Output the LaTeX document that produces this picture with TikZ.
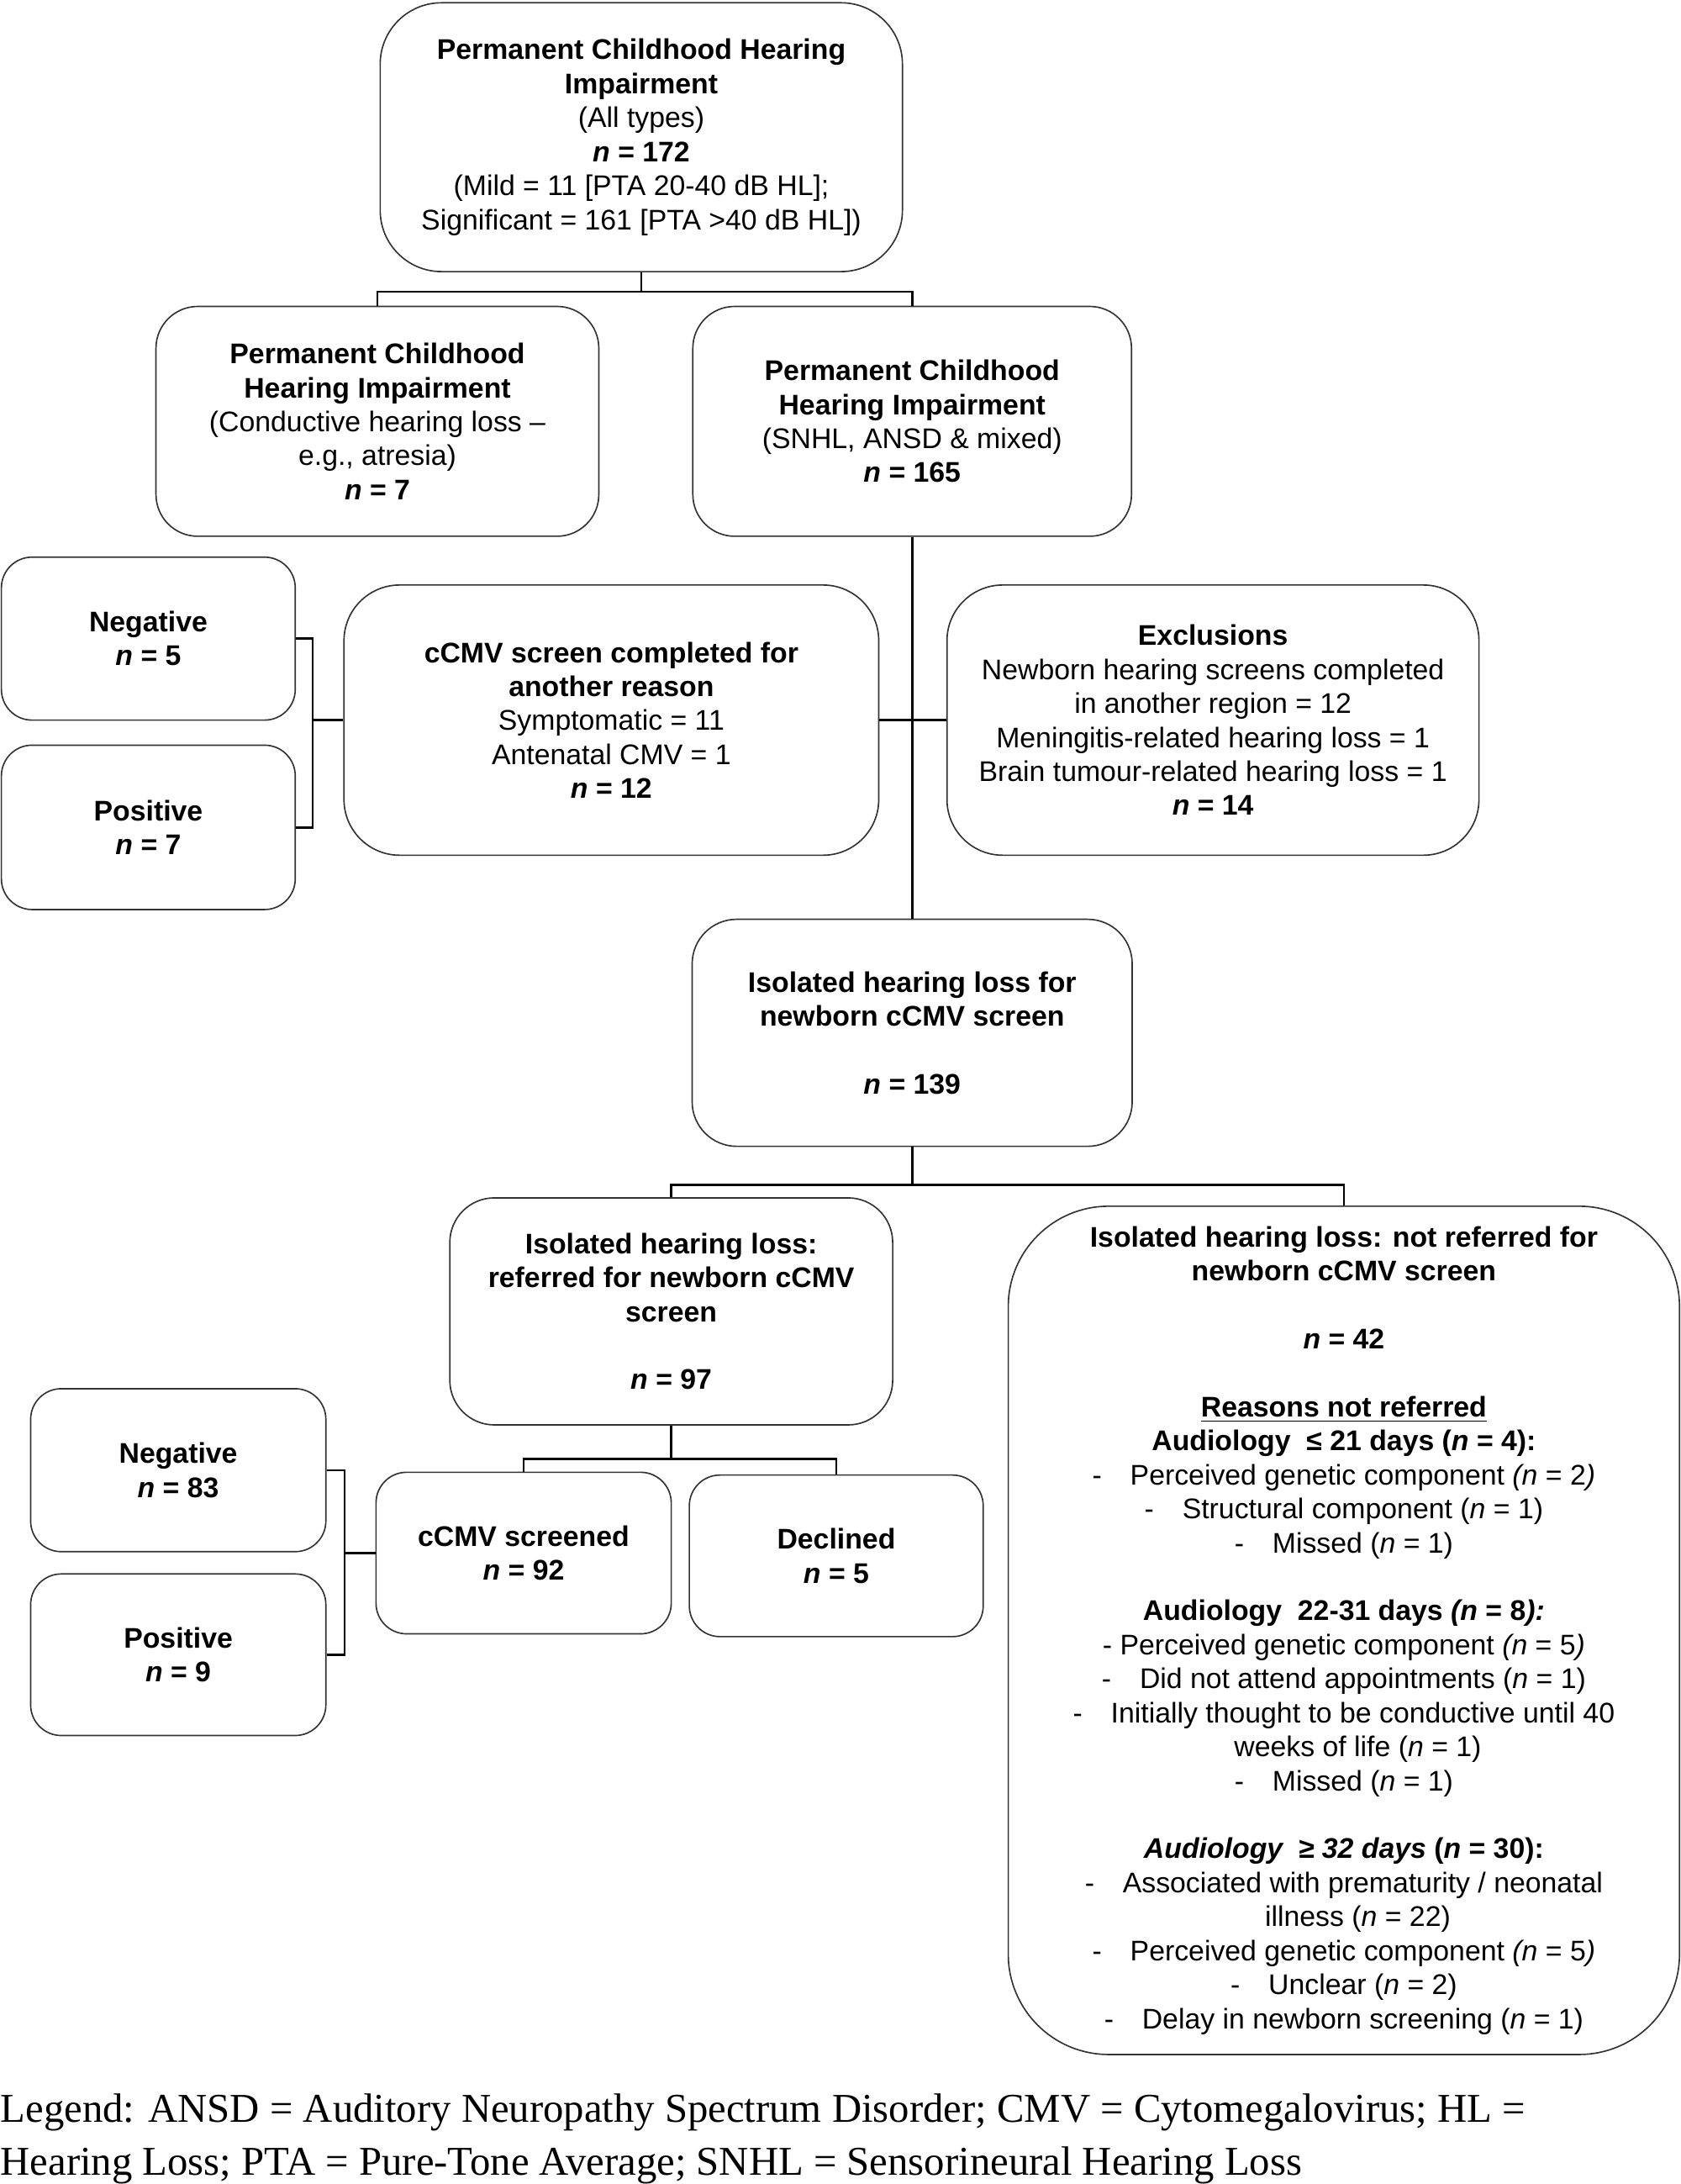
\documentclass[tikz,border=0pt]{standalone}
\usepackage{fontspec}
\setmainfont{Liberation Sans}
\newfontfamily\legendfont{Liberation Serif}
\usetikzlibrary{positioning}
\tikzset{
  box/.style = {draw=black!80, line width=0.5pt, rounded corners=#1, align=center, inner sep=0pt,
    font=\fontsize{10.2pt}{12.2pt}\selectfont},
  box/.default = 14pt,
  link/.style = {line width=0.8pt},
}
\newcommand{\nval}[1]{\textbf{\textit{n} = #1}}

\begin{document}
\begin{tikzpicture}[x=0.5pt, y=-0.5pt]
  \useasboundingbox (0,0) rectangle (1207,1568);
  \node[box=22pt, minimum width=187.5pt, minimum height=96.5pt] (all) at (460.5,98.5)
    {\textbf{Permanent Childhood Hearing}\\\textbf{Impairment}\\(All types)\\\nval{172}\\
     (Mild = 11 [PTA 20-40 dB HL];\\Significant = 161 [PTA >40 dB HL])};
  \node[box=15pt, minimum width=159pt, minimum height=82.5pt] (cond) at (271,302.5)
    {\textbf{Permanent Childhood}\\\textbf{Hearing Impairment}\\(Conductive hearing loss --\\e.g., atresia)\\\nval{7}};
  \node[box=15pt, minimum width=157.5pt, minimum height=82.5pt] (snhl) at (655,302.5)
    {\textbf{Permanent Childhood}\\\textbf{Hearing Impairment}\\(SNHL, ANSD \& mixed)\\\nval{165}};
  \node[box=11pt, minimum width=105.5pt, minimum height=58.5pt] (neg1) at (106.5,458.5)
    {\textbf{Negative}\\\nval{5}};
  \node[box=11pt, minimum width=105.5pt, minimum height=59pt] (pos1) at (106.5,594)
    {\textbf{Positive}\\\nval{7}};
  \node[box=20pt, minimum width=192pt, minimum height=97pt] (other) at (439,517)
    {\textbf{cCMV screen completed for}\\\textbf{another reason}\\Symptomatic = 11\\Antenatal CMV = 1\\\nval{12}};
  \node[box=20pt, minimum width=191pt, minimum height=97pt] (excl) at (871,517)
    {\textbf{Exclusions}\\Newborn hearing screens completed\\in another region = 12\\
     Meningitis-related hearing loss = 1\\Brain tumour-related hearing loss = 1\\\nval{14}};
  \node[box=16pt, minimum width=158pt, minimum height=81.5pt] (iso) at (655,741.5)
    {\textbf{Isolated hearing loss for}\\\textbf{newborn cCMV screen}\\[12.2pt]\nval{139}};
  \node[box=16pt, minimum width=159pt, minimum height=81.5pt] (ref) at (482,941.5)
    {\textbf{Isolated hearing loss:}\\\textbf{referred for newborn cCMV}\\\textbf{screen}\\[12.2pt]\nval{97}};
  \node[box=36pt, minimum width=241pt, minimum height=304.5pt] (notref) at (965,1170.5)
    {\textbf{Isolated hearing loss: not referred for}\\\textbf{newborn cCMV screen}\\[12.2pt]
     \nval{42}\\[12.2pt]
     \underline{\textbf{Reasons not referred}}\\
     \textbf{Audiology\ \ ≤ 21 days (\textit{n} = 4):}\\
     -\quad Perceived genetic component \textit{(n} = 2\textit{)}\\
     -\quad Structural component (\textit{n} = 1)\\
     -\quad Missed (\textit{n} = 1)\\[12.2pt]
     \textbf{Audiology\ \ 22-31 days \textit{(n} = 8\textit{):}}\\
     - Perceived genetic component \textit{(n} = 5\textit{)}\\
     -\quad Did not attend appointments (\textit{n} = 1)\\
     -\quad Initially thought to be conductive until 40\\
     \hspace*{10pt}weeks of life (\textit{n} = 1)\\
     -\quad Missed (\textit{n} = 1)\\[12.2pt]
     \textbf{\textit{Audiology\ \ ≥ 32 days} (\textit{n} = 30):}\\
     -\quad Associated with prematurity / neonatal\\
     \hspace*{10pt}illness (\textit{n} = 22)\\
     -\quad Perceived genetic component \textit{(n} = 5\textit{)}\\
     -\quad Unclear (\textit{n} = 2)\\
     -\quad Delay in newborn screening (\textit{n} = 1)};
  \node[box=11pt, minimum width=106pt, minimum height=58.5pt] (neg2) at (128,1055.5)
    {\textbf{Negative}\\\nval{83}};
  \node[box=11pt, minimum width=106pt, minimum height=58pt] (pos2) at (128,1188)
    {\textbf{Positive}\\\nval{9}};
  \node[box=11pt, minimum width=106pt, minimum height=58pt] (scr) at (376,1115)
    {\textbf{cCMV screened}\\\nval{92}};
  \node[box=11pt, minimum width=105.5pt, minimum height=58pt] (decl) at (600.5,1117)
    {\textbf{Declined}\\\nval{5}};
  \node[anchor=north west, align=left, inner sep=0pt,
    font=\legendfont\fontsize{14.7pt}{19pt}\selectfont] (legend) at (0,1503)
    {Legend: ANSD = Auditory Neuropathy Spectrum Disorder; CMV = Cytomegalovirus; HL =\\
     Hearing Loss; PTA = Pure-Tone Average; SNHL = Sensorineural Hearing Loss};
  % connectors
  \draw[link] (all.south) -- ++(0,14) coordinate (j1);
  \draw[link] (j1) -| (cond.north);
  \draw[link] (j1) -| (snhl.north);
  \draw[link] (snhl) -- (iso);
  \draw[link] (other) -- (excl);
  \draw[link] (neg1.east) -- ++(12,0) coordinate (b1) |- (pos1.east);
  \draw[link] (other.west) -- (other.west -| b1);
  \draw[link] (iso.south) -- ++(0,27) coordinate (j2);
  \draw[link] (j2) -| (ref.north);
  \draw[link] (j2) -| (notref.north);
  \draw[link] (ref.south) -- ++(0,24) coordinate (j3);
  \draw[link] (j3) -| (scr.north);
  \draw[link] (j3) -| (decl.north);
  \draw[link] (neg2.east) -- ++(13,0) coordinate (b2) |- (pos2.east);
  \draw[link] (scr.west) -- (scr.west -| b2);
\end{tikzpicture}
\end{document}
